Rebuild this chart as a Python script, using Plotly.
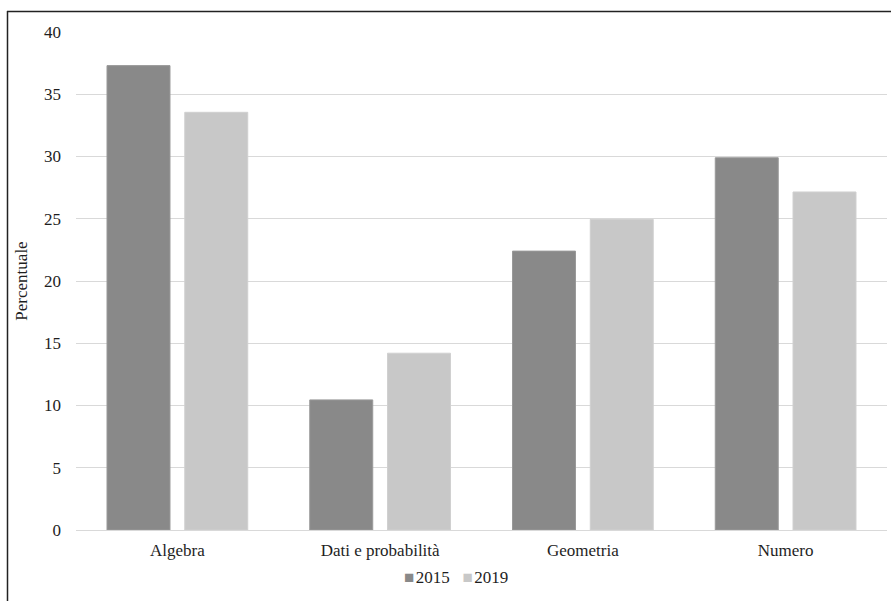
import plotly.graph_objects as go

categories = ["Algebra", "Dati e probabilità", "Geometria", "Numero"]
values_2015 = [37.3, 10.45, 22.4, 29.9]
values_2019 = [33.55, 14.2, 24.95, 27.15]
series_names = ["2015", "2019"]
series_colors = ["#898989", "#c8c8c8"]
y_ticks = [0, 5, 10, 15, 20, 25, 30, 35, 40]

FONT = "Liberation Serif, Times New Roman, serif"
TXT = "#1e1e1e"

fig = go.Figure()
fig.add_trace(go.Bar(x=categories, y=values_2015, name=series_names[0], showlegend=False,
                     marker=dict(color=series_colors[0], line=dict(color="#999999", width=1))))
fig.add_trace(go.Bar(x=categories, y=values_2019, name=series_names[1], showlegend=False,
                     marker=dict(color=series_colors[1], line=dict(color="#d0d0d0", width=1))))

W, H = 891, 601
L, R, T, B = 76, 4, 32, 71
pw = W - L - R
ph = H - T - B

def px_x(p):
    return (p - L) / pw

def px_y(p):
    return (H - B - p) / ph

legend_text = "\u2002\u00a0".join(
    f"<span style='color:{c}'>■</span>\u200a{n}" for n, c in zip(series_names, series_colors)
)

fig.update_layout(
    width=W, height=H,
    margin=dict(l=L, r=R, t=T, b=B),
    paper_bgcolor="white", plot_bgcolor="white",
    barmode="group", bargap=0.233, bargroupgap=0.19,
    font=dict(family=FONT, size=17, color=TXT),
    showlegend=False,
    xaxis=dict(showgrid=False, showline=False, ticks="", ticklabelstandoff=8,
               tickfont=dict(family=FONT, size=17, color=TXT)),
    yaxis=dict(range=[0, 40], tickvals=y_ticks, showgrid=True, gridcolor="#d9d9d9", gridwidth=1,
               zeroline=True, zerolinecolor="#d9d9d9", zerolinewidth=1, showline=False,
               ticks="", ticklabelstandoff=14, tickfont=dict(family=FONT, size=17, color=TXT),
               title=dict(text="Percentuale", font=dict(family=FONT, size=17, color=TXT), standoff=12)),
    annotations=[
        dict(text=legend_text, xref="paper", yref="paper", x=px_x(456), y=px_y(577),
             xanchor="center", yanchor="middle", showarrow=False,
             font=dict(family=FONT, size=17, color=TXT)),
    ],
    shapes=[
        dict(type="line", xref="paper", yref="paper", x0=px_x(7), x1=px_x(893), y0=px_y(11.5), y1=px_y(11.5),
             line=dict(color="#222222", width=1.5)),
        dict(type="line", xref="paper", yref="paper", x0=px_x(7.5), x1=px_x(7.5), y0=px_y(11), y1=px_y(603),
             line=dict(color="#222222", width=1.5)),
    ],
)

fig.write_html("out.html", config={"displayModeBar": False},
               post_script="document.body.style.margin='0';document.body.style.overflow='hidden';")
